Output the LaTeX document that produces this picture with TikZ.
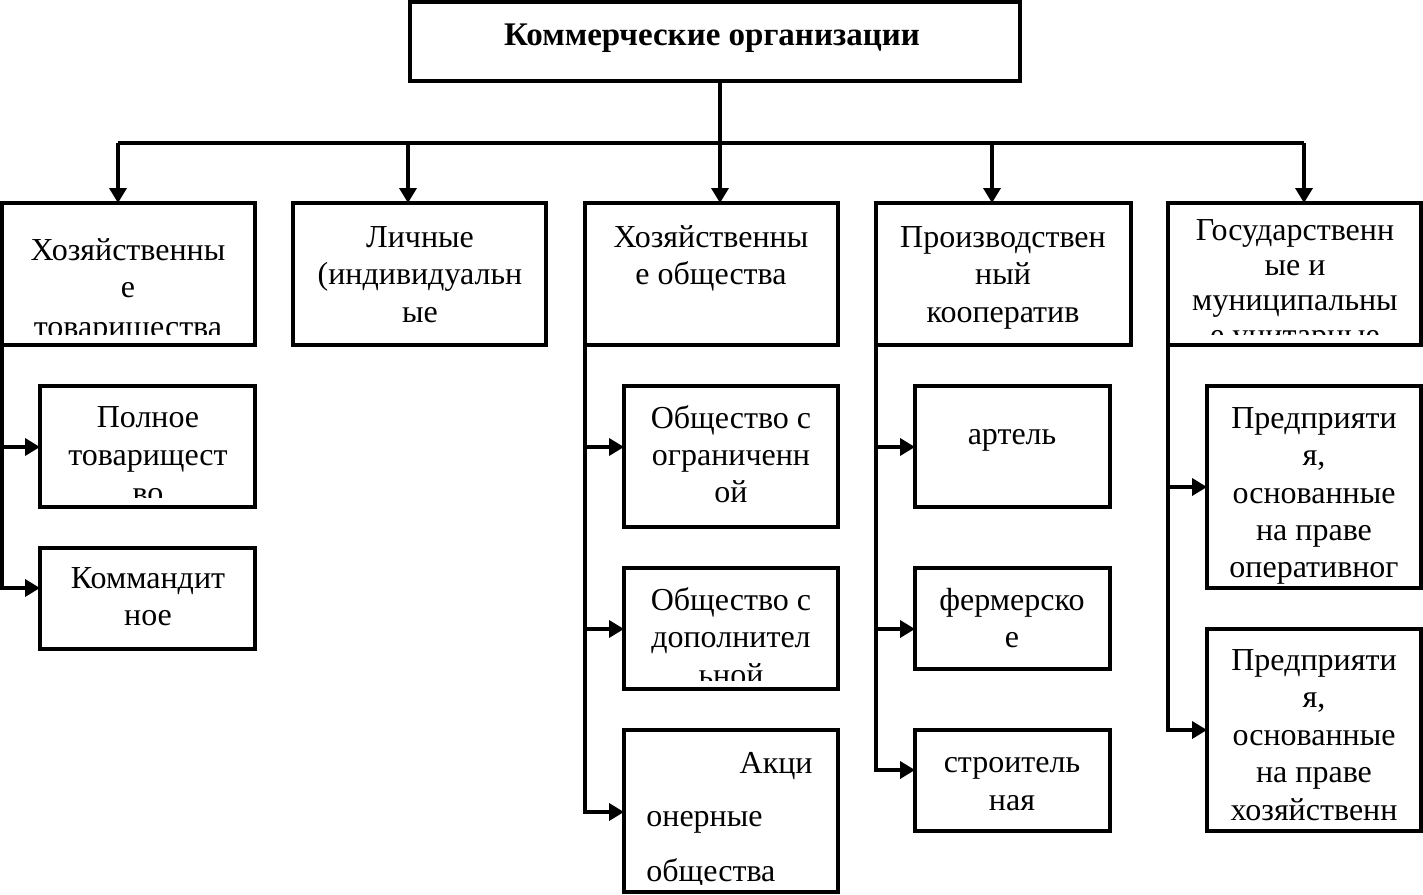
\documentclass[tikz,border=0pt]{standalone}
\usepackage{fontspec}
\setmainfont{Liberation Serif}
\usetikzlibrary{arrows.meta}
\tikzset{
 bx/.style={draw, line width=1.8pt, inner sep=0pt, outer sep=0pt, anchor=north west},
 txt/.style={inner sep=0pt, anchor=base, font=\fontsize{16}{18}\selectfont},
 txtr/.style={txt, anchor=base east},
 txtl/.style={txt, anchor=base west},
 ttl/.style={inner sep=0pt, anchor=base, font=\bfseries\fontsize{16.5}{18}\selectfont},
 ln/.style={line width=1.8pt},
 arr/.style={line width=1.8pt, -{Triangle[length=7.5pt,width=8.5pt]}},
}
\newcommand\mkbox[5]{\node[bx, minimum width={(#4-#2)*0.5pt}, minimum height={(#5-#3)*0.5pt}] (#1) at (#2,#3) {};}
\begin{document}
\begin{tikzpicture}[x=0.5pt,y=-0.5pt]
\useasboundingbox (0,0) rectangle (1423,894);
% top
\mkbox{top}{410}{2}{1020}{81}
\node[ttl] (ttl) at (712,45) {Коммерческие организации};
% level 2
\mkbox{b1}{2}{203}{255}{345}
\mkbox{b2}{293}{203}{546}{345}
\mkbox{b3}{585}{203}{838}{345}
\mkbox{b4}{876}{203}{1131}{345}
\mkbox{b5}{1168}{203}{1421}{345}
\begin{scope}
\clip (2,203) rectangle (255,334);
\node[txt] (b1t1) at (128,260) {Хозяйственны};
\node[txt] (b1t2) at (128,297) {е};
\node[txt] (b1t3) at (128,337) {товарищества};
\end{scope}
\begin{scope}
\clip (293,203) rectangle (546,334);
\node[txt] (b2t1) at (420,247) {Личные};
\node[txt] (b2t2) at (420,284) {(индивидуальн};
\node[txt] (b2t3) at (420,322) {ые};
\end{scope}
\node[txt] (b3t1) at (711,247) {Хозяйственны};
\node[txt] (b3t2) at (711,284) {е общества};
\node[txt] (b4t1) at (1003,247) {Производствен};
\node[txt] (b4t2) at (1003,284) {ный};
\node[txt] (b4t3) at (1003,322) {кооператив};
\begin{scope}
\clip (1168,203) rectangle (1421,334);
\node[txt] (b5t1) at (1295,240) {Государственн};
\node[txt] (b5t2) at (1295,275) {ые и};
\node[txt] (b5t3) at (1295,310) {муниципальны};
\node[txt] (b5t4) at (1295,345) {е унитарные};
\end{scope}
% column 1
\mkbox{c1a}{40}{386}{255}{507}
\mkbox{c1b}{40}{548}{255}{649}
\begin{scope}
\clip (40,386) rectangle (255,497);
\node[txt] (c1at1) at (148,427) {Полное};
\node[txt] (c1at2) at (148,465) {товарищест};
\node[txt] (c1at3) at (148,503) {во};
\end{scope}
\node[txt] (c1bt1) at (148,588) {Коммандит};
\node[txt] (c1bt2) at (148,625) {ное};
% column 3
\mkbox{c3a}{624}{386}{838}{527}
\mkbox{c3b}{624}{568}{838}{689}
\mkbox{c3c}{624}{730}{838}{892}
\node[txt] (c3at1) at (731,428) {Общество с};
\node[txt] (c3at2) at (731,465) {ограниченн};
\node[txt] (c3at3) at (731,502) {ой};
\begin{scope}
\clip (624,568) rectangle (838,680);
\node[txt] (c3bt1) at (731,610) {Общество с};
\node[txt] (c3bt2) at (731,647) {дополнител};
\node[txt] (c3bt3) at (731,685) {ьной};
\end{scope}
\begin{scope}
\clip (624,730) rectangle (838,884);
\node[txtr] (c3ct1) at (813,773) {Акци};
\node[txtl] (c3ct2) at (646,826) {онерные};
\node[txtl] (c3ct3) at (646,881) {общества};
\end{scope}
% column 4
\mkbox{c4a}{915}{386}{1110}{507}
\mkbox{c4b}{915}{568}{1110}{669}
\mkbox{c4c}{915}{730}{1110}{831}
\node[txt] (c4at1) at (1012,444) {артель};
\node[txt] (c4bt1) at (1012,610) {фермерско};
\node[txt] (c4bt2) at (1012,647) {е};
\node[txt] (c4ct1) at (1012,772) {строитель};
\node[txt] (c4ct2) at (1012,810) {ная};
% column 5
\mkbox{c5a}{1207}{386}{1421}{588}
\mkbox{c5b}{1207}{629}{1421}{831}
\node[txt] (c5at1) at (1314,428) {Предприяти};
\node[txt] (c5at2) at (1314,465) {я,};
\node[txt] (c5at3) at (1314,503) {основанные};
\node[txt] (c5at4) at (1314,540) {на праве};
\node[txt] (c5at5) at (1314,577) {оперативног};
\node[txt] (c5bt1) at (1314,670) {Предприяти};
\node[txt] (c5bt2) at (1314,707) {я,};
\node[txt] (c5bt3) at (1314,745) {основанные};
\node[txt] (c5bt4) at (1314,782) {на праве};
\node[txt] (c5bt5) at (1314,820) {хозяйственн};
% connectors top
\coordinate (p1) at (118,143);
\coordinate (p2) at (408,143);
\coordinate (p3) at (720,143);
\coordinate (p4) at (992,143);
\coordinate (p5) at (1304,143);
\draw[ln] (p3 |- top.south) -- (p3);
\draw[ln] (p1) -- (p5);
\draw[arr] (p1) -- (p1 |- b1.north);
\draw[arr] (p2) -- (p2 |- b2.north);
\draw[arr] (p3) -- (p3 |- b3.north);
\draw[arr] (p4) -- (p4 |- b4.north);
\draw[arr] (p5) -- (p5 |- b5.north);
% branches
\coordinate (k1a) at (2,447);
\coordinate (k1b) at (2,588);
\draw[arr] (k1a) -- (k1a -| c1a.west);
\draw[arr] (b1.south west) -- (k1b) -- (k1b -| c1b.west);
\coordinate (k3a) at (585,447);
\coordinate (k3b) at (585,629);
\coordinate (k3c) at (585,812);
\draw[arr] (k3a) -- (k3a -| c3a.west);
\draw[arr] (k3b) -- (k3b -| c3b.west);
\draw[arr] (b3.south west) -- (k3c) -- (k3c -| c3c.west);
\coordinate (k4a) at (876,447);
\coordinate (k4b) at (876,629);
\coordinate (k4c) at (876,770);
\draw[arr] (k4a) -- (k4a -| c4a.west);
\draw[arr] (k4b) -- (k4b -| c4b.west);
\draw[arr] (b4.south west) -- (k4c) -- (k4c -| c4c.west);
\coordinate (k5a) at (1168,487);
\coordinate (k5b) at (1168,730);
\draw[arr] (k5a) -- (k5a -| c5a.west);
\draw[arr] (b5.south west) -- (k5b) -- (k5b -| c5b.west);
\end{tikzpicture}
\end{document}
